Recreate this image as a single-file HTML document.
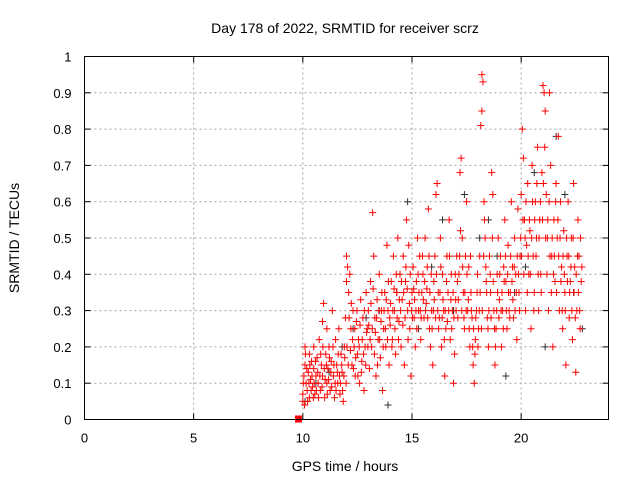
<!DOCTYPE html>
<html><head><meta charset="utf-8"><style>
body{margin:0;background:#fff;}
svg{display:block;font-family:"Liberation Sans",sans-serif;}
</style></head><body>
<svg id="chart" width="640" height="480" viewBox="0 0 640 480">
<text x="345" y="33" font-size="14" text-anchor="middle">Day 178 of 2022, SRMTID for receiver scrz</text>
<text x="345" y="471" font-size="14" text-anchor="middle">GPS time / hours</text>
<text transform="translate(19,238) rotate(-90)" font-size="14" text-anchor="middle">SRMTID / TECUs</text>
<g id="grid"></g>
<g id="ticks"></g>
<g id="black-series"></g>
<g id="red-series"></g>
<rect x="84.5" y="56.5" width="524" height="363" fill="none" stroke="#000" stroke-width="1"/>
</svg>
<script>
const xTicks=[0,5,10,15,20];
const yTicks=[0,0.1,0.2,0.3,0.4,0.5,0.6,0.7,0.8,0.9,1];
const yTickLabels=["0","0.1","0.2","0.3","0.4","0.5","0.6","0.7","0.8","0.9","1"];
const redPointsA=[[10.0,.07],[10.0,.05],[10.05,.12],[10.1,.15],[10.1,.2],[10.15,.1],[10.2,.08],[10.25,.13],[10.3,.18],[10.3,.06],[10.35,.11],[10.4,.16],[10.45,.09],[10.5,.14],[10.5,.2],[10.55,.07],[10.6,.12],[10.65,.17],[10.7,.1],[10.75,.22],[10.8,.08],[10.85,.15],[10.9,.27],[10.9,.12],[10.95,.32],[11.0,.06],[11.05,.18],[11.1,.25],[11.1,.1],[11.15,.14],[11.2,.2],[11.25,.08],[11.3,.16],[11.35,.3],[11.4,.12],[11.45,.06],[11.5,.22],[11.55,.15],[11.6,.1],[11.65,.25],[11.7,.07],[11.75,.18],[11.8,.13],[11.85,.05],[11.9,.2],[11.95,.28],[12.0,.45],[12.0,.38],[12.05,.42],[12.1,.35],[12.15,.4],[12.2,.25],[12.25,.15],[12.3,.3],[12.35,.2],[12.4,.12],[12.45,.27],[12.5,.18],[12.55,.22],[12.6,.1],[12.65,.33],[12.7,.16],[12.75,.28],[12.8,.08],[12.85,.2],[12.9,.35],[12.95,.25],[13.0,.3],[13.05,.14],[13.1,.38],[13.15,.2],[13.2,.57],[13.25,.45],[13.3,.28],[13.35,.12],[13.4,.33],[13.45,.22],[13.5,.4],[13.55,.17],[13.6,.3],[13.65,.08],[13.7,.25],[13.75,.35],[13.8,.2],[13.85,.48],[13.9,.3],[13.95,.15],[14.0,.26],[14.05,.38],[14.1,.22],[14.15,.45],[14.2,.3],[14.25,.18],[14.3,.35],[14.35,.5],[14.4,.27],[14.45,.4],[14.5,.2],[14.55,.33],[14.6,.45],[14.65,.15],[14.7,.38],[14.75,.55],[14.8,.3],[14.85,.48],[14.9,.25],[14.95,.12],[15.0,.35],[15.05,.42],[15.1,.28],[15.15,.2],[15.2,.38],[15.25,.5],[15.3,.3],[15.35,.45],[15.4,.22],[15.45,.35],[15.5,.4],[15.55,.28],[15.6,.5],[15.65,.32],[15.7,.42],[15.75,.58],[15.8,.25],[15.85,.2],[15.9,.3],[15.95,.15],[16.0,.38],[16.05,.45],[16.1,.62],[16.15,.65],[16.2,.35],[16.25,.28],[16.3,.5],[16.35,.2],[16.4,.4],[16.45,.3],[16.5,.12],[16.55,.25],[16.6,.45],[16.65,.35],[16.7,.55],[16.75,.22],[16.8,.4],[16.85,.3],[16.9,.1],[16.95,.18],[17.0,.33],[17.05,.45],[17.1,.28],[17.15,.4],[17.2,.68],[17.25,.72],[17.3,.5],[17.35,.35],[17.4,.25],[17.45,.45],[17.5,.6],[17.55,.3],[17.6,.42],[17.65,.2],[17.7,.35],[17.75,.28],[17.8,.15],[17.85,.1],[17.9,.22],[17.95,.3],[18.0,.4],[18.05,.25],[18.1,.45],[18.15,.81],[18.2,.85],[18.2,.95],[18.25,.93],[18.3,.6],[18.35,.5],[18.4,.38],[18.45,.28],[18.5,.2],[18.55,.45],[18.6,.35],[18.65,.68],[18.7,.62],[18.75,.3],[18.8,.15],[18.85,.25],[18.9,.4],[18.95,.5],[19.0,.33],[19.05,.45],[19.1,.2],[19.15,.3],[19.2,.42],[19.25,.55],[19.3,.38],[19.35,.25],[19.4,.48],[19.45,.3],[19.5,.35],[19.55,.6],[19.6,.42],[19.65,.28],[19.7,.5],[19.75,.4],[19.8,.22],[19.85,.58],[19.9,.35],[19.95,.45],[20.0,.62],[20.05,.8],[20.1,.72],[20.15,.55],[20.2,.3],[20.25,.48],[20.3,.65],[20.35,.4],[20.4,.52],[20.45,.25],[20.5,.7],[20.55,.45],[20.6,.35],[20.65,.6],[20.7,.5],[20.75,.75],[20.8,.3],[20.85,.55],[20.9,.4],[20.95,.68],[21.0,.92],[21.05,.9],[21.1,.85],[21.15,.62],[21.2,.5],[21.25,.3],[21.3,.9],[21.35,.7],[21.4,.45],[21.45,.2],[21.5,.55],[21.55,.38],[21.6,.65],[21.65,.5],[21.7,.78],[21.75,.3],[21.8,.6],[21.85,.42],[21.9,.25],[21.95,.52],[22.0,.35],[22.05,.15],[22.1,.45],[22.15,.6],[22.2,.28],[22.25,.38],[22.3,.5],[22.35,.22],[22.4,.65],[22.45,.42],[22.5,.13],[22.55,.3],[22.6,.55],[22.65,.45],[22.7,.25],[22.75,.38]];
const redPointsB=[[10.02,.1],[10.08,.04],[10.12,.18],[10.18,.14],[10.22,.05],[10.28,.1],[10.32,.15],[10.38,.08],[10.42,.12],[10.48,.06],[10.52,.1],[10.58,.16],[10.62,.08],[10.68,.13],[10.72,.06],[10.78,.12],[10.82,.18],[10.88,.09],[10.92,.2],[10.98,.14],[11.02,.11],[11.08,.15],[11.12,.07],[11.18,.11],[11.22,.17],[11.28,.13],[11.32,.09],[11.38,.2],[11.42,.15],[11.48,.1],[11.52,.08],[11.58,.13],[11.62,.18],[11.68,.12],[11.72,.1],[11.78,.15],[11.82,.08],[11.88,.12],[11.92,.17],[11.98,.1],[12.02,.2],[12.08,.15],[12.12,.28],[12.18,.19],[12.22,.32],[12.28,.22],[12.32,.14],[12.38,.25],[12.42,.17],[12.48,.3],[12.52,.12],[12.58,.2],[12.62,.26],[12.68,.13],[12.72,.22],[12.78,.18],[12.82,.3],[12.88,.15],[12.92,.24],[12.98,.2],[13.02,.26],[13.08,.22],[13.12,.32],[13.18,.25],[13.22,.36],[13.28,.18],[13.32,.24],[13.38,.28],[13.42,.15],[13.48,.3],[13.52,.22],[13.58,.27],[13.62,.35],[13.68,.2],[13.72,.3],[13.78,.25],[13.82,.33],[13.88,.22],[13.92,.38],[13.98,.28],[14.02,.32],[14.08,.2],[14.12,.3],[14.18,.36],[14.22,.25],[14.28,.4],[14.32,.28],[14.38,.22],[14.42,.33],[14.48,.3],[14.52,.38],[14.58,.26],[14.62,.35],[14.68,.28],[14.72,.42],[14.78,.36],[14.82,.22],[14.88,.32],[14.92,.4],[14.98,.3],[15.02,.28],[15.08,.36],[15.12,.33],[15.18,.3],[15.22,.25],[15.28,.4],[15.32,.35],[15.38,.3],[15.42,.28],[15.48,.45],[15.52,.33],[15.58,.38],[15.62,.3],[15.68,.36],[15.72,.28],[15.78,.45],[15.82,.35],[15.88,.4],[15.92,.25],[15.98,.3],[16.02,.33],[16.08,.28],[16.12,.4],[16.18,.3],[16.22,.25],[16.28,.35],[16.32,.42],[16.38,.28],[16.42,.33],[16.48,.22],[16.52,.3],[16.58,.38],[16.62,.27],[16.68,.3],[16.72,.45],[16.78,.33],[16.82,.25],[16.88,.35],[16.92,.28],[16.98,.4],[17.02,.3],[17.08,.38],[17.12,.33],[17.18,.45],[17.22,.52],[17.28,.3],[17.32,.42],[17.38,.28],[17.42,.35],[17.48,.3],[17.52,.4],[17.58,.33],[17.62,.25],[17.68,.45],[17.72,.3],[17.78,.2],[17.82,.25],[17.88,.18],[17.92,.28],[17.98,.35],[18.02,.2],[18.08,.3],[18.12,.35],[18.18,.25],[18.22,.3],[18.28,.45],[18.32,.55],[18.38,.42],[18.42,.35],[18.48,.25],[18.52,.3],[18.58,.4],[18.62,.28],[18.68,.5],[18.72,.38],[18.78,.25],[18.82,.2],[18.88,.3],[18.92,.35],[18.98,.28],[19.02,.4],[19.08,.3],[19.12,.35],[19.18,.25],[19.22,.38],[19.28,.45],[19.32,.3],[19.38,.4],[19.42,.35],[19.48,.28],[19.52,.45],[19.58,.38],[19.62,.33],[19.68,.42],[19.72,.3],[19.78,.35],[19.82,.45],[19.88,.4],[19.92,.3],[19.98,.5],[20.02,.45],[20.08,.55],[20.12,.4],[20.18,.5],[20.22,.6],[20.28,.35],[20.32,.45],[20.38,.55],[20.42,.4],[20.48,.5],[20.52,.6],[20.58,.3],[20.62,.55],[20.68,.45],[20.72,.65],[20.78,.4],[20.82,.5],[20.88,.6],[20.92,.35],[20.98,.55],[21.02,.65],[21.08,.75],[21.12,.5],[21.18,.4],[21.22,.55],[21.28,.6],[21.32,.45],[21.38,.35],[21.42,.5],[21.48,.4],[21.52,.45],[21.58,.6],[21.62,.35],[21.68,.55],[21.72,.45],[21.78,.5],[21.82,.38],[21.88,.3],[21.92,.45],[21.98,.4],[22.02,.3],[22.08,.5],[22.12,.38],[22.18,.45],[22.22,.35],[22.28,.42],[22.32,.3],[22.38,.5],[22.42,.35],[22.48,.28],[22.52,.4],[22.58,.45],[22.62,.35],[22.68,.3],[22.72,.5],[22.78,.42]];
const redPoints=redPointsA.concat(redPointsB);
const blackPoints=[[10.1,.05],[10.6,.1],[11.2,.13],[11.8,.2],[12.3,.25],[12.9,.28],[13.5,.3],[13.9,.04],[14.3,.35],[14.8,.6],[15.3,.25],[15.9,.42],[16.4,.55],[16.9,.3],[17.4,.62],[18.1,.5],[18.5,.55],[18.9,.45],[19.3,.12],[19.7,.35],[20.2,.42],[20.6,.68],[21.1,.2],[21.6,.78],[22.0,.62],[22.4,.35],[22.8,.25]];
const squarePoint=[9.8,0];

const NS="http://www.w3.org/2000/svg";
const X0=84.5,X1=608.5,Y0=419.5,Y1=56.5,XMAX=24;
function sx(t){return X0+(t/XMAX)*(X1-X0);}
function sy(v){return Y0-v*(Y0-Y1);}
function mk(tag,attrs,parent){const e=document.createElementNS(NS,tag);for(const k in attrs)e.setAttribute(k,attrs[k]);parent.appendChild(e);return e;}
const grid=document.getElementById('grid'),ticks=document.getElementById('ticks');
yTicks.forEach((v,i)=>{
  const y=sy(v);
  if(i>0&&i<yTicks.length-1){const g=mk('line',{x1:X0,x2:X1,y1:y,y2:y,stroke:'#a0a0a0','stroke-dasharray':'2,3'},grid);
  
  }
  const t=mk('text',{x:X0-13,y:y+5,'font-size':13,'text-anchor':'end'},ticks);t.textContent=yTickLabels[i];
  
  
  mk('line',{x1:X0,x2:X0+6,y1:y,y2:y,stroke:'#000'},ticks);
  mk('line',{x1:X1,x2:X1-6,y1:y,y2:y,stroke:'#000'},ticks);
});
xTicks.forEach(v=>{
  const x=sx(v);
  if(v>0){const g=mk('line',{x1:x,x2:x,y1:Y0,y2:Y1,stroke:'#a0a0a0','stroke-dasharray':'2,3'},grid);
  
  }
  const t=mk('text',{x:x,y:Y0+23,'font-size':13,'text-anchor':'middle'},ticks);t.textContent=String(v);
  
  
  mk('line',{x1:x,x2:x,y1:Y0,y2:Y0-6,stroke:'#000'},ticks);
  mk('line',{x1:x,x2:x,y1:Y1,y2:Y1+6,stroke:'#000'},ticks);
});
function plus(g,t,v,color,name){
  const x=sx(t),y=sy(v);
  const p=mk('path',{d:`M${x-3.5},${y}H${x+3.5}M${x},${y-3.5}V${y+3.5}`,stroke:color,'stroke-width':1,fill:'none'},g);
  
  
}
const bg=document.getElementById('black-series'),rg=document.getElementById('red-series');
blackPoints.forEach(p=>plus(bg,p[0],p[1],'#303030','black-point'));
redPoints.forEach(p=>plus(rg,p[0],p[1],'#ff0000','red-point'));
const sq=mk('rect',{x:sx(squarePoint[0])-3.5,y:sy(squarePoint[1])-4,width:7,height:7,fill:'#ff0000'},rg);


</script>
</body></html>
